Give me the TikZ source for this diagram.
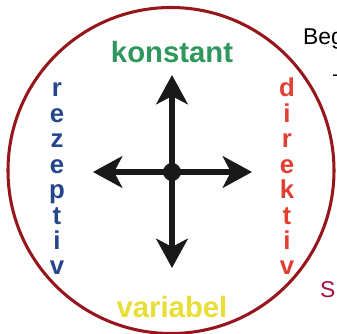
\documentclass[tikz,border=0pt]{standalone}
\usepackage{fontspec}
\setmainfont{Liberation Sans}
\usetikzlibrary{arrows.meta}

\definecolor{ringred}{RGB}{150,22,28}
\definecolor{konstgreen}{RGB}{46,152,92}
\definecolor{varyellow}{RGB}{232,222,52}
\definecolor{rezblue}{RGB}{38,70,140}
\definecolor{dirred}{RGB}{226,62,50}
\definecolor{sred}{RGB}{165,15,60}

\begin{document}
\begin{tikzpicture}[%
      x=0.03cm, y=0.03cm,
      arr/.style={line width=4.3pt, -{Stealth[length=25pt, width=27pt, inset=7pt]}},
      letter/.style={anchor=base, inner sep=0pt, font=\fontsize{22}{22}\selectfont\bfseries},
      big/.style={inner sep=0pt, font=\fontsize{25}{25}\selectfont\bfseries},
      side/.style={anchor=base west, inner sep=0pt, font=\fontsize{19.5}{19.5}\selectfont},
      ]
      \useasboundingbox (-172,-161) rectangle (165,172);
      \clip (-172,-161) rectangle (165,172);
      \fill [white] (-172,-161) rectangle (165,172);

      \draw [color=ringred, line width=2.6pt] (-1,1.5) circle (163);

      \node [circle, fill=black!90, inner sep=0pt, minimum size=15.4pt] (hub) at (0,0) {};
      \coordinate (up) at (0,97);
      \coordinate (down) at (0,-96);
      \coordinate (west) at (-79,0);
      \coordinate (east) at (80,0);
      \draw [arr, color=black!90] (hub.center) -- (up);
      \draw [arr, color=black!90] (hub.center) -- (down);
      \draw [arr, color=black!90] (hub.center) -- (west);
      \draw [arr, color=black!90] (hub.center) -- (east);

      \node [big, color=konstgreen] (konstant) at (0,120) {konstant};
      \node [big, color=varyellow] (variabel) at (0,-135) {variabel};

      \foreach \ch [count=\i from 0] in {r,e,z,e,p,t,i,v}
        \node [letter, color=rezblue] (rez\i) at (-115,75-25.4*\i) {\ch};
      \foreach \ch [count=\i from 0] in {d,i,r,e,k,t,i,v}
        \node [letter, color=dirred] (dir\i) at (115,75-25.4*\i) {\ch};

      \node [side] (beg) at (131,127) {Beg};
      \node [side] (dash) at (161,90) {–};
      \node [side, color=sred] (sword) at (148,-125) {S};
      \end{tikzpicture}
\end{document}
